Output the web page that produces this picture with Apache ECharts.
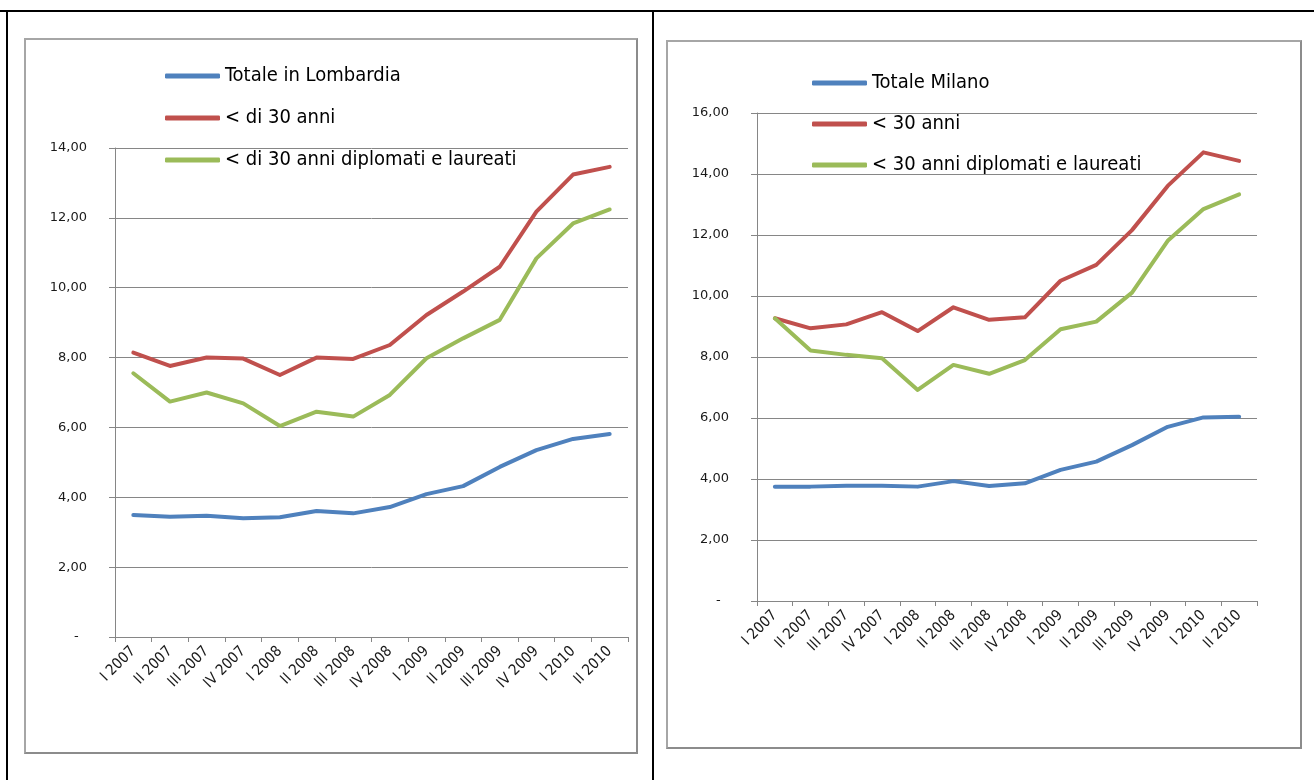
<!DOCTYPE html>
<html>
<head>
<meta charset="utf-8">
<title>Tasso di disoccupazione – Lombardia e Milano</title>
<script src="https://cdn.jsdelivr.net/npm/echarts/dist/echarts.min.js"></script>
<style>
  html, body { margin: 0; padding: 0; background: #ffffff; }
  body { width: 1314px; height: 780px; position: relative; overflow: hidden; }
  .rule { position: absolute; background: #000; }
  .box { position: absolute; box-sizing: border-box; border: 2px solid #a6a6a6; border-right-color: #8c8c8c; border-bottom-color: #8c8c8c; background: #fff; }
  #chart { position: absolute; left: 0; top: 0; width: 1314px; height: 780px; }
</style>
</head>
<body>
<!-- table rules around the two panels -->
<div class="rule" style="left:0;top:10px;width:1314px;height:2px;"></div>
<div class="rule" style="left:6px;top:10px;width:2px;height:770px;"></div>
<div class="rule" style="left:652px;top:10px;width:2px;height:770px;"></div>
<!-- chart area frames -->
<div class="box" style="left:24px;top:38px;width:614px;height:716px;"></div>
<div class="box" style="left:666px;top:40px;width:636px;height:709px;"></div>
<div id="chart"></div>
<script>
// Quarters shown on both category axes
const quarters = ['I 2007', 'II 2007', 'III 2007', 'IV 2007', 'I 2008', 'II 2008', 'III 2008',
                  'IV 2008', 'I 2009', 'II 2009', 'III 2009', 'IV 2009', 'I 2010', 'II 2010'];

// Lombardia (%)
const lombardiaTotale = [3.49, 3.44, 3.47, 3.40, 3.43, 3.61, 3.54, 3.72, 4.09, 4.32, 4.87, 5.35, 5.67, 5.81];
const lombardiaUnder30 = [8.14, 7.76, 8.00, 7.97, 7.50, 8.00, 7.96, 8.36, 9.22, 9.89, 10.60, 12.18, 13.24, 13.46];
const lombardiaUnder30Dipl = [7.55, 6.74, 7.00, 6.69, 6.04, 6.45, 6.31, 6.93, 7.98, 8.55, 9.08, 10.84, 11.84, 12.24];

// Milano (%)
const milanoTotale = [3.75, 3.75, 3.78, 3.78, 3.75, 3.93, 3.77, 3.86, 4.30, 4.57, 5.11, 5.71, 6.02, 6.04];
const milanoUnder30 = [9.27, 8.94, 9.07, 9.47, 8.85, 9.63, 9.22, 9.30, 10.50, 11.02, 12.16, 13.61, 14.71, 14.43];
const milanoUnder30Dipl = [9.27, 8.21, 8.07, 7.96, 6.92, 7.74, 7.45, 7.90, 8.91, 9.16, 10.11, 11.81, 12.85, 13.33];

// Series names (legend text)
const namesLombardia = ['Totale in Lombardia', '< di 30 anni', '< di 30 anni diplomati e laureati'];
const namesMilano = ['Totale Milano', '< 30 anni', '< 30 anni diplomati e laureati'];

// Axis ranges
const yLombardia = { min: 0, max: 14, step: 2 };
const yMilano = { min: 0, max: 16, step: 2 };

const colors = ['#4f81bd', '#c0504d', '#9bbb59'];
const axisGray = '#868686';
const labelFont = '"DejaVu Sans", sans-serif';
const condensedFont = '"DejaVu Sans Condensed", "Liberation Sans Narrow", "DejaVu Sans", sans-serif';

function fmtValue(v) {
  if (v === 0) return '-  ';
  return v.toFixed(2).replace('.', ',');
}

function xAxisFor(gridIndex) {
  return {
    type: 'category', gridIndex, data: quarters, boundaryGap: true,
    axisLine: { show: true, lineStyle: { color: axisGray, width: 1 } },
    axisTick: { show: true, interval: 0, length: 5, lineStyle: { color: axisGray } },
    axisLabel: {
      interval: 0, rotate: 45, margin: 12, color: '#1a1a1a',
      fontFamily: condensedFont, fontSize: 15
    },
    splitLine: { show: false }
  };
}

function yAxisFor(gridIndex, range) {
  return {
    type: 'value', gridIndex, min: range.min, max: range.max, interval: range.step,
    axisLine: { show: true, lineStyle: { color: axisGray, width: 1 } },
    axisTick: { show: true, length: 6, lineStyle: { color: axisGray } },
    axisLabel: { margin: 28, color: '#1a1a1a', fontFamily: labelFont, fontSize: 13, formatter: fmtValue },
    splitLine: { show: true, lineStyle: { color: axisGray, width: 1 } }
  };
}

function lineSeries(name, data, idx, axisIndex) {
  return {
    name, type: 'line', data, xAxisIndex: axisIndex, yAxisIndex: axisIndex,
    symbol: 'none', smooth: false, animation: false,
    lineStyle: { color: colors[idx], width: 4, cap: 'round', join: 'round' },
    itemStyle: { color: colors[idx] }
  };
}

function legendFor(names, left, top, gap) {
  return {
    data: names, orient: 'vertical', left, top, itemGap: gap, padding: 0,
    icon: 'roundRect', itemWidth: 55, itemHeight: 5, selectedMode: false,
    textStyle: { color: '#000', fontFamily: condensedFont, fontSize: 20, lineHeight: 22 }
  };
}

const chart = echarts.init(document.getElementById('chart'), null, { renderer: 'canvas' });

chart.setOption({
  backgroundColor: 'transparent',
  animation: false,
  color: colors,
  grid: [
    { left: 115, top: 148, width: 513, height: 489, containLabel: false },
    { left: 757, top: 113, width: 500, height: 488, containLabel: false }
  ],
  xAxis: [xAxisFor(0), xAxisFor(1)],
  yAxis: [yAxisFor(0, yLombardia), yAxisFor(1, yMilano)],
  legend: [
    legendFor(namesLombardia, 165, 65, 20),
    legendFor(namesMilano, 812, 72, 19)
  ],
  series: [
    lineSeries(namesLombardia[0], lombardiaTotale, 0, 0),
    lineSeries(namesLombardia[1], lombardiaUnder30, 1, 0),
    lineSeries(namesLombardia[2], lombardiaUnder30Dipl, 2, 0),
    lineSeries(namesMilano[0], milanoTotale, 0, 1),
    lineSeries(namesMilano[1], milanoUnder30, 1, 1),
    lineSeries(namesMilano[2], milanoUnder30Dipl, 2, 1)
  ]
});
</script>
</body>
</html>
